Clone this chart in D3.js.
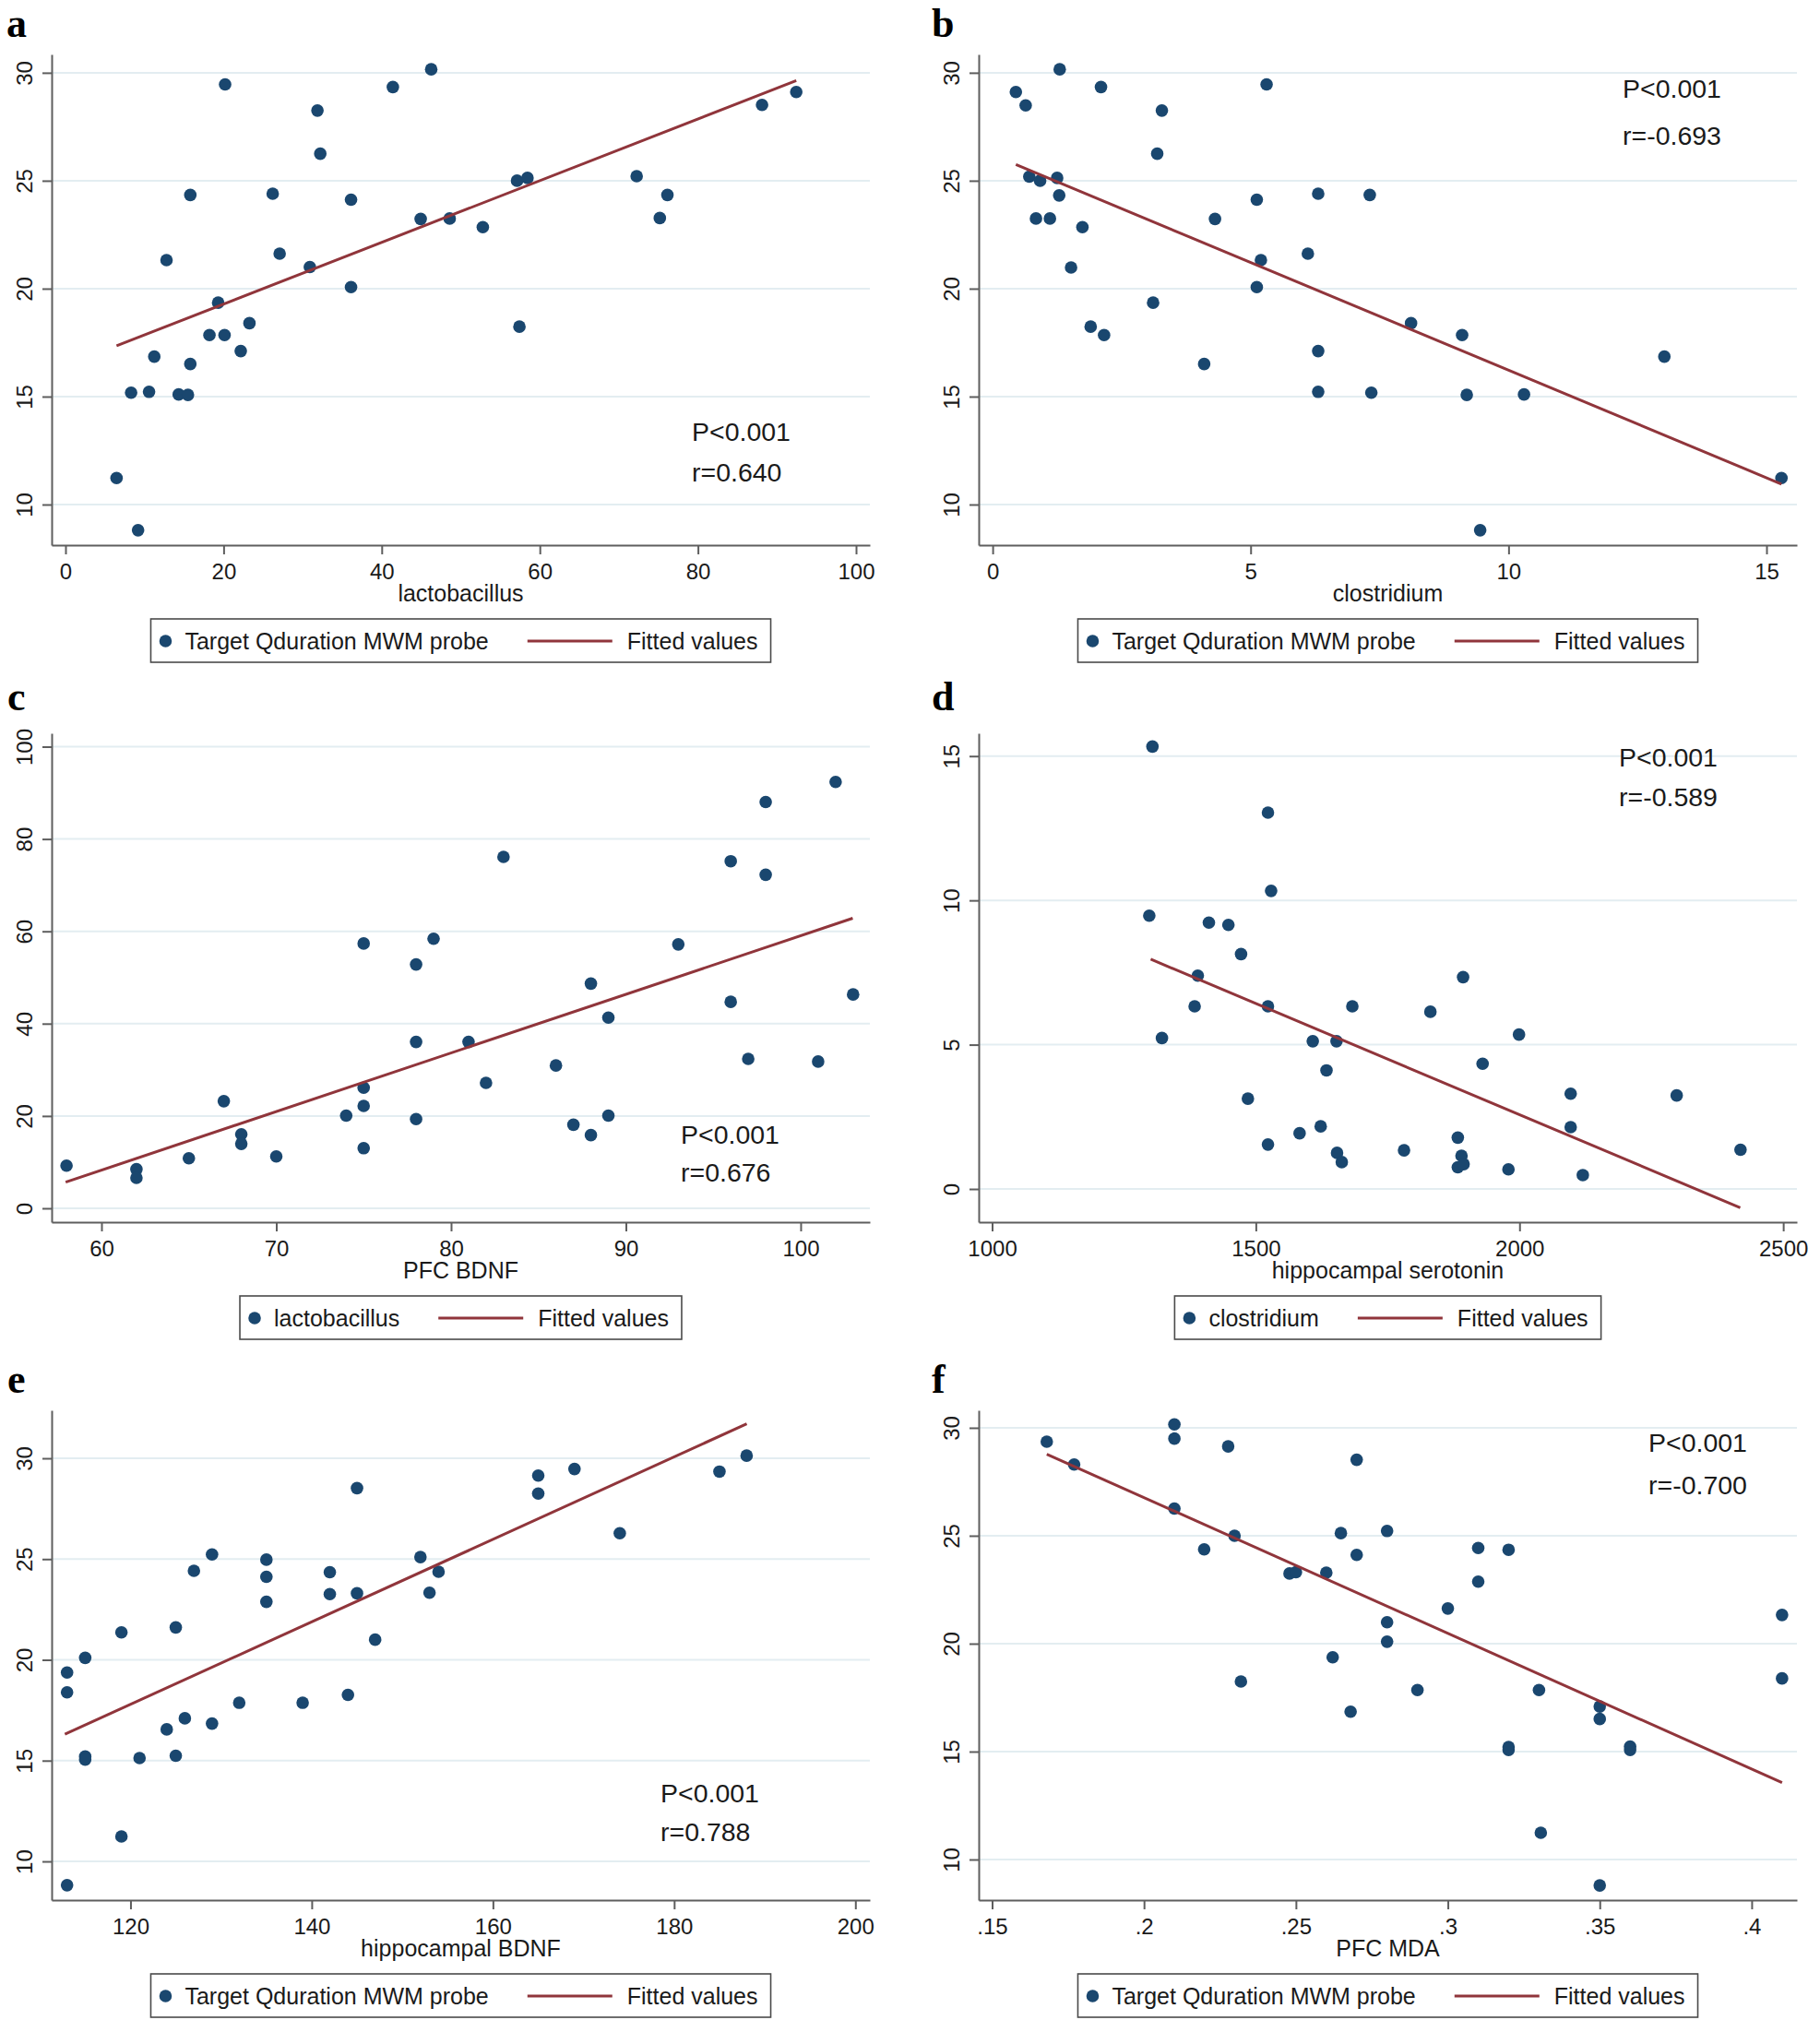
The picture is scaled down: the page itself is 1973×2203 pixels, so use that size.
<!DOCTYPE html>
<html>
<head>
<meta charset="utf-8">
<script src="https://cdn.jsdelivr.net/npm/d3@7/dist/d3.min.js"></script>
<style>
  body { margin: 0; background: #fff; }
  svg text { font-family: 'Liberation Sans', Arial, sans-serif; fill: #1a1a1a; }
</style>
</head>
<body>
<script>
/* global d3 */

// a: lactobacillus vs target quadrant duration
const aX = [6.46, 9.18, 8.3, 10.57, 11.23, 12.78, 14.32, 15.49, 15.79, 15.79, 18.21, 19.31, 20.19, 20.12, 22.17, 23.27, 26.21, 27.09, 30.91, 31.87, 32.23, 36.12, 36.12, 41.41, 46.26, 44.93, 48.6, 52.79, 57.12, 58.44, 57.42, 72.25, 75.18, 76.14, 88.11, 92.44];
const aY = [11.23, 8.81, 15.18, 15.22, 16.85, 21.32, 15.1, 15.08, 24.34, 16.51, 17.85, 19.35, 29.46, 17.85, 17.11, 18.4, 24.4, 21.62, 21.0, 28.25, 26.25, 24.12, 20.07, 29.34, 30.16, 23.23, 23.25, 22.85, 25.0, 25.13, 18.24, 25.21, 23.27, 24.34, 28.51, 29.11];
const aFitX = [6.46, 92.44];
const aFitY = [17.35, 29.64];

// b: clostridium vs target quadrant duration
const bX = [0.45, 0.64, 0.71, 0.92, 0.84, 1.11, 1.25, 1.29, 1.3, 1.74, 1.52, 1.9, 2.16, 2.1, 3.11, 3.19, 3.28, 4.1, 4.31, 5.12, 5.12, 5.2, 5.31, 6.11, 6.31, 6.31, 6.31, 7.31, 7.34, 8.11, 9.1, 9.19, 9.45, 10.3, 13.02, 15.29];
const bY = [29.11, 28.49, 25.19, 25.0, 23.25, 23.25, 25.13, 24.32, 30.16, 22.85, 20.98, 18.24, 17.85, 29.34, 19.35, 26.25, 28.25, 16.51, 23.23, 24.12, 20.07, 21.32, 29.46, 21.62, 24.4, 17.11, 15.22, 24.34, 15.18, 18.4, 17.85, 15.08, 8.81, 15.1, 16.85, 11.23];
const bFitX = [0.45, 15.29];
const bFitY = [25.75, 10.95];

// c: PFC BDNF vs lactobacillus
const cX = [58, 62, 62, 65, 67, 68, 68, 70, 74, 75, 75, 75, 75, 78, 78, 78, 79, 81, 82, 83, 86, 87, 88, 88, 89, 89, 93, 96, 96, 97, 98, 98, 101, 102, 103];
const cY = [9.25, 8.49, 6.6, 10.85, 23.21, 16.04, 13.96, 11.23, 20.09, 57.36, 26.13, 22.17, 13.02, 52.83, 36.04, 19.34, 58.4, 36.04, 27.17, 76.13, 30.94, 18.11, 48.68, 15.85, 41.32, 20.09, 57.17, 75.19, 44.72, 32.36, 88.02, 72.26, 31.79, 92.36, 46.32];
const cFitX = [57.95, 102.98];
const cFitY = [5.66, 62.83];

// d: hippocampal serotonin vs clostridium
const dX = [1304, 1298, 1322, 1384, 1390, 1411, 1448, 1472, 1485, 1523, 1529, 1523, 1523, 1583, 1608, 1623, 1634, 1653, 1654, 1663, 1683, 1781, 1831, 1883, 1893, 1890, 1883, 1894, 1930, 1979, 1999, 2097, 2097, 2120, 2298, 2419];
const dY = [15.33, 9.47, 5.23, 6.33, 7.39, 9.23, 9.15, 8.14, 3.13, 13.04, 10.33, 6.33, 1.54, 1.93, 5.12, 2.17, 4.11, 5.12, 1.25, 0.93, 6.33, 1.34, 6.14, 1.78, 7.34, 1.15, 0.75, 0.86, 4.34, 0.68, 5.35, 3.3, 2.14, 0.48, 3.24, 1.36];
const dFitX = [1300.7, 2418.5];
const dFitY = [7.96, -0.65];

// e: hippocampal BDNF vs target quadrant duration
const eX = [113, 113, 113, 115, 115, 115, 119, 119, 121, 124, 125, 125, 126, 127, 129, 129, 132, 135, 135, 135, 139, 142, 142, 144, 145, 145, 147, 152, 153, 154, 165, 165, 169, 174, 185, 188];
const eY = [19.37, 18.39, 8.82, 20.1, 15.2, 15.05, 21.36, 11.24, 15.13, 16.55, 21.61, 15.24, 17.1, 24.42, 25.23, 16.84, 17.87, 24.97, 24.12, 22.88, 17.87, 24.35, 23.26, 18.26, 28.52, 23.3, 21.0, 25.1, 23.33, 24.37, 29.14, 28.25, 29.47, 26.28, 29.34, 30.13];
const eFitX = [112.76, 188.01];
const eFitY = [16.31, 31.71];

// f: PFC MDA vs target quadrant duration
const fX = [0.168, 0.177, 0.21, 0.21, 0.21, 0.2198, 0.2277, 0.2298, 0.2319, 0.2479, 0.25, 0.26, 0.2621, 0.2648, 0.268, 0.27, 0.27, 0.28, 0.28, 0.28, 0.29, 0.3, 0.31, 0.31, 0.32, 0.32, 0.32, 0.33, 0.3306, 0.35, 0.35, 0.35, 0.36, 0.36, 0.41, 0.41];
const fY = [29.36, 28.3, 30.16, 29.5, 26.26, 24.37, 29.14, 25.0, 18.25, 23.25, 23.31, 23.29, 19.37, 25.12, 16.85, 28.52, 24.11, 25.22, 20.99, 20.09, 17.85, 21.63, 24.43, 22.87, 24.35, 15.21, 15.08, 17.85, 11.24, 17.09, 16.51, 8.8, 15.23, 15.08, 21.33, 18.39];
const fFitX = [0.168, 0.41];
const fFitY = [28.78, 13.56];

// ticks
const durationTicks = [10, 15, 20, 25, 30];
const lactoTicks = [0, 20, 40, 60, 80, 100];
const clostTicks = [0, 5, 10, 15];
const pfcBdnfTicks = [60, 70, 80, 90, 100];
const lactoYTicks = [0, 20, 40, 60, 80, 100];
const serotoninTicks = [1000, 1500, 2000, 2500];
const hipBdnfTicks = [120, 140, 160, 180, 200];
const mdaTicks = [0.15, 0.2, 0.25, 0.3, 0.35, 0.4];
const mdaTickLabels = ['.15', '.2', '.25', '.3', '.35', '.4'];

const probeLabel = 'Target Qduration MWM probe';

const panels = [
  { letter: 'a', x: aX, y: aY, fitX: aFitX, fitY: aFitY, xTicks: lactoTicks, yTicks: durationTicks,
    xTitle: 'lactobacillus', legend: probeLabel, stats: ['P<0.001', 'r=0.640'],
    xDomain: [-1.75, 101.75], yDomain: [8.12, 30.85], box: [56, 59, 943, 591],
    letterPos: [7, 40], statPos: [750, 478, 522] },
  { letter: 'b', x: bX, y: bY, fitX: bFitX, fitY: bFitY, xTicks: clostTicks, yTicks: durationTicks,
    xTitle: 'clostridium', legend: probeLabel, stats: ['P<0.001', 'r=-0.693'],
    xDomain: [-0.27, 15.59], yDomain: [8.12, 30.85], box: [1061, 59, 1948, 591],
    letterPos: [1010, 40], statPos: [1759, 106, 157] },
  { letter: 'c', x: cX, y: cY, fitX: cFitX, fitY: cFitY, xTicks: pfcBdnfTicks, yTicks: lactoYTicks,
    xTitle: 'PFC BDNF', legend: 'lactobacillus', stats: ['P<0.001', 'r=0.676'],
    xDomain: [57.15, 103.96], yDomain: [-3.0, 102.9], box: [56, 795, 943, 1325],
    letterPos: [8, 770], statPos: [738, 1240, 1281] },
  { letter: 'd', x: dX, y: dY, fitX: dFitX, fitY: dFitY, xTicks: serotoninTicks, yTicks: clostTicks,
    xTitle: 'hippocampal serotonin', legend: 'clostridium', stats: ['P<0.001', 'r=-0.589'],
    xDomain: [974.6, 2526], yDomain: [-1.15, 15.79], box: [1061, 795, 1948, 1325],
    letterPos: [1010, 770], statPos: [1755, 831, 874] },
  { letter: 'e', x: eX, y: eY, fitX: eFitX, fitY: eFitY, xTicks: hipBdnfTicks, yTicks: durationTicks,
    xTitle: 'hippocampal BDNF', legend: probeLabel, stats: ['P<0.001', 'r=0.788'],
    xDomain: [111.3, 201.6], yDomain: [8.08, 32.38], box: [56, 1529, 943, 2060],
    letterPos: [8, 1510], statPos: [716, 1954, 1996] },
  { letter: 'f', x: fX, y: fY, fitX: fFitX, fitY: fFitY, xTicks: mdaTicks, xTickLabels: mdaTickLabels, yTicks: durationTicks,
    xTitle: 'PFC MDA', legend: probeLabel, stats: ['P<0.001', 'r=-0.700'],
    xDomain: [0.1456, 0.4149], yDomain: [8.12, 30.81], box: [1061, 1529, 1948, 2060],
    letterPos: [1010, 1510], statPos: [1787, 1574, 1620] },
];

const navy = '#1a476f';
const maroon = '#90353b';
const axisColor = '#5e5e5e';

const svg = d3.select('body')
  .append('svg')
  .attr('width', 1973)
  .attr('height', 2203);

panels.forEach((p) => {
  const [x0, y0, x1, y1] = p.box;
  const xScale = d3.scaleLinear().domain(p.xDomain).range([x0, x1]);
  const yScale = d3.scaleLinear().domain(p.yDomain).range([y1, y0]);
  const g = svg.append('g');

  // panel letter
  g.append('text')
    .attr('x', p.letterPos[0])
    .attr('y', p.letterPos[1])
    .style('font-family', "'Liberation Serif', 'Times New Roman', serif")
    .attr('font-weight', 'bold')
    .attr('font-size', 44)
    .style('fill', '#000')
    .text(p.letter);

  // horizontal grid lines
  g.selectAll('.grid')
    .data(p.yTicks)
    .enter().append('line')
      .attr('class', 'grid')
      .attr('x1', x0)
      .attr('x2', x1)
      .attr('y1', d => yScale(d))
      .attr('y2', d => yScale(d))
      .attr('stroke', '#e3edf1')
      .attr('stroke-width', 2);

  const yAxis = g.append('g')
    .attr('transform', `translate(${x0},0)`)
    .call(d3.axisLeft(yScale).tickValues(p.yTicks).tickSize(10).tickSizeOuter(0));
  yAxis.selectAll('.tick text')
    .attr('x', 0)
    .attr('dy', null)
    .attr('text-anchor', 'middle')
    .attr('transform', 'translate(-21,0) rotate(-90)');

  const xFormat = p.xTickLabels ? (d, i) => p.xTickLabels[i] : d3.format('d');
  const xAxis = g.append('g')
    .attr('transform', `translate(0,${y1})`)
    .call(d3.axisBottom(xScale).tickValues(p.xTicks).tickFormat(xFormat).tickSize(10).tickSizeOuter(0));
  xAxis.selectAll('.tick text')
    .attr('y', 37)
    .attr('dy', null);

  [yAxis, xAxis].forEach((ax) => {
    ax.attr('font-size', 24).attr('font-family', null);
    ax.select('.domain').attr('stroke', axisColor).attr('stroke-width', 2);
    ax.selectAll('.tick line').attr('stroke', axisColor).attr('stroke-width', 2);
    ax.selectAll('.tick text').attr('fill', '#1a1a1a');
  });

  // x-axis title
  g.append('text')
    .attr('x', (x0 + x1) / 2)
    .attr('y', y1 + 61)
    .attr('text-anchor', 'middle')
    .attr('font-size', 25)
    .text(p.xTitle);

  // scatter
  g.append('g')
    .selectAll('circle')
    .data(p.x.map((v, i) => [v, p.y[i]]))
    .enter().append('circle')
      .attr('cx', d => xScale(d[0]))
      .attr('cy', d => yScale(d[1]))
      .attr('r', 6.8)
      .attr('fill', navy);

  // fitted values
  const line = d3.line()
    .x(d => xScale(d[0]))
    .y(d => yScale(d[1]));
  g.append('path')
    .datum(p.fitX.map((v, i) => [v, p.fitY[i]]))
    .attr('d', line)
    .attr('fill', 'none')
    .attr('stroke', maroon)
    .attr('stroke-width', 3);

  // statistics
  g.selectAll('.stat')
    .data(p.stats)
    .enter().append('text')
      .attr('class', 'stat')
      .attr('x', p.statPos[0])
      .attr('y', (d, i) => p.statPos[i + 1])
      .attr('font-size', 28.5)
      .text(d => d);

  // legend
  const ly = y1 + 80;
  const leg = g.append('g');
  const rect = leg.append('rect');
  const t1 = leg.append('text').attr('y', ly + 33).attr('font-size', 25).text(p.legend);
  const t2 = leg.append('text').attr('y', ly + 33).attr('font-size', 25).text('Fitted values');
  const w1 = t1.node().getComputedTextLength();
  const w2 = t2.node().getComputedTextLength();
  const legWidth = 37 + w1 + 42 + 92 + 16 + w2 + 14;
  const left = (x0 + x1) / 2 - legWidth / 2;
  rect
    .attr('x', left)
    .attr('y', ly)
    .attr('width', legWidth)
    .attr('height', 47)
    .attr('fill', '#fff')
    .attr('stroke', '#4a4a4a')
    .attr('stroke-width', 1.6);
  leg.append('circle')
    .attr('cx', left + 16)
    .attr('cy', ly + 24)
    .attr('r', 6.8)
    .attr('fill', navy);
  t1.attr('x', left + 37);
  const lx = left + 37 + w1 + 42;
  leg.append('line')
    .attr('x1', lx)
    .attr('x2', lx + 92)
    .attr('y1', ly + 24)
    .attr('y2', ly + 24)
    .attr('stroke', maroon)
    .attr('stroke-width', 3);
  t2.attr('x', lx + 92 + 16);
});
</script>
</body>
</html>
